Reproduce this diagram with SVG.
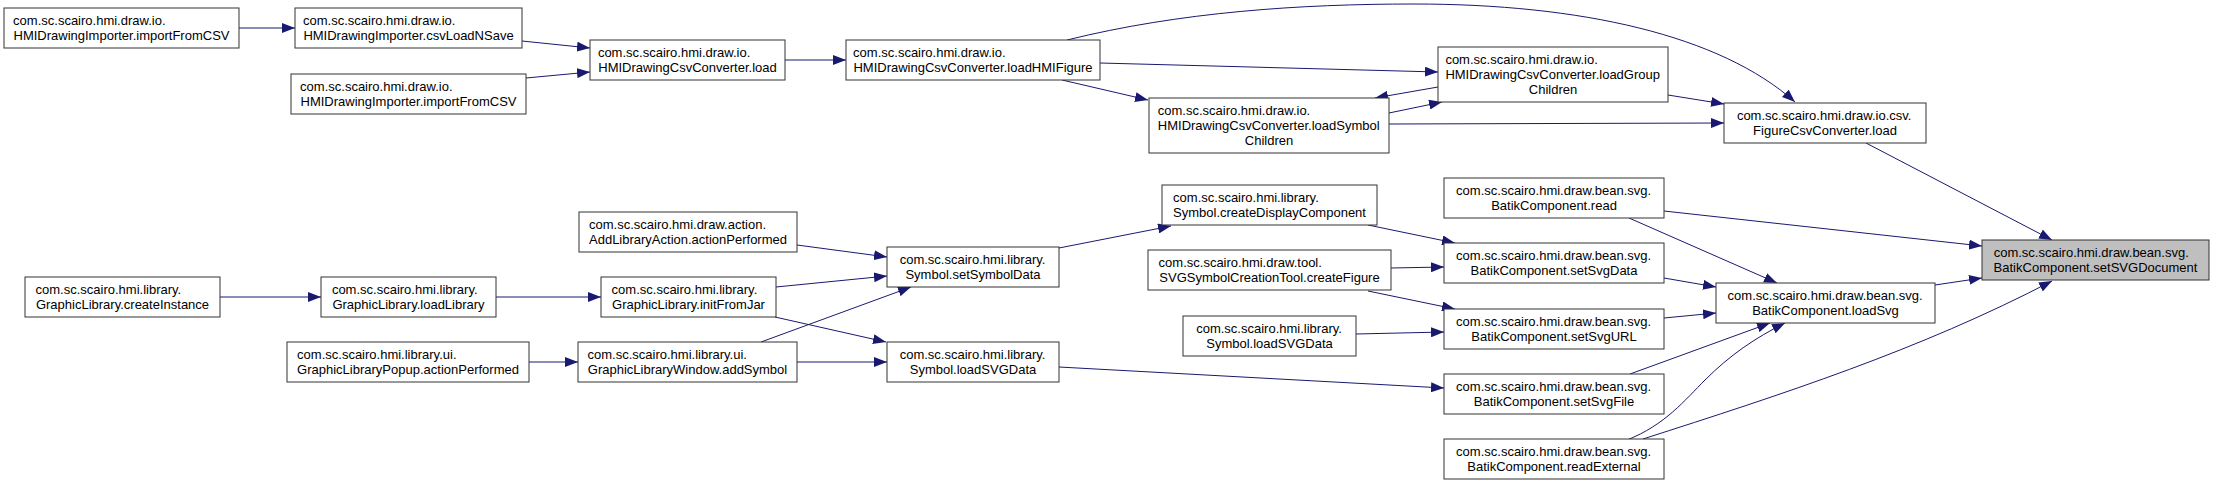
<svg xmlns="http://www.w3.org/2000/svg" width="2215" height="486" viewBox="0 0 2215 486">
<style>
.n rect{fill:#ffffff;stroke:#333333;stroke-width:1}
.n.hl rect{fill:#bfbfbf}
.n text{font-family:"Liberation Sans",Arial,sans-serif;font-size:13px;fill:#000000}
.n text.c{text-anchor:middle}
.e path{stroke:#191970;stroke-width:1;fill:none;marker-end:url(#ah)}
</style>
<defs>
<marker id="ah" markerUnits="userSpaceOnUse" markerWidth="14" markerHeight="10" refX="13" refY="5" orient="auto">
<path d="M0,0 L13,5 L0,10 z" fill="#191970"/>
</marker>
</defs>
<rect width="2215" height="486" fill="#ffffff"/>
<g id="connectors" class="e">
<path d="M239,28 L295,28"/>
<path d="M522,41 L590,48"/>
<path d="M526,78 L590,72"/>
<path d="M785,60 L846,60"/>
<path d="M1067,40 C1180,12 1300,4 1414,4 C1580,4 1720,35 1795,102"/>
<path d="M1100,63 L1438,72"/>
<path d="M1062,80 L1148,100"/>
<path d="M1438,87 L1375,98"/>
<path d="M1389,113 L1442,102"/>
<path d="M1389,124 L1724,123"/>
<path d="M1668,95 L1724,104"/>
<path d="M1866,143 L2052,240"/>
<path d="M1664,211 L1982,246"/>
<path d="M1629,218 L1777,283"/>
<path d="M1664,278 L1716,287"/>
<path d="M1664,318 L1716,313"/>
<path d="M1630,374 L1770,323"/>
<path d="M1627,440 C1665,425 1685,400 1705,380 C1730,355 1755,338 1785,323"/>
<path d="M1643,439 C1780,395 1920,350 2052,281"/>
<path d="M1935,285 L1982,278"/>
<path d="M1059,248 L1171,226"/>
<path d="M1368,225 L1455,243"/>
<path d="M1391,268 L1444,267"/>
<path d="M1368,291 L1455,309"/>
<path d="M1356,334 L1444,332"/>
<path d="M1059,367 L1444,388"/>
<path d="M496,297 L601,297"/>
<path d="M220,297 L321,297"/>
<path d="M529,362 L578,362"/>
<path d="M797,245 L887,257"/>
<path d="M776,287 L887,276"/>
<path d="M761,342 L911,287"/>
<path d="M775,317 L886,342"/>
<path d="M797,362 L887,362"/>
</g>
<g id="n_importFromCSV_1" class="n"><rect x="4" y="8" width="235" height="40"/><text x="13.1" y="25">com.sc.scairo.hmi.draw.io.</text><text class="c" x="121.5" y="40">HMIDrawingImporter.importFromCSV</text></g>
<g id="n_csvLoadNSave" class="n"><rect x="295" y="8" width="227" height="40"/><text x="303" y="25">com.sc.scairo.hmi.draw.io.</text><text class="c" x="408.5" y="40">HMIDrawingImporter.csvLoadNSave</text></g>
<g id="n_importFromCSV_2" class="n"><rect x="291" y="74" width="235" height="40"/><text x="300.1" y="91">com.sc.scairo.hmi.draw.io.</text><text class="c" x="408.5" y="106">HMIDrawingImporter.importFromCSV</text></g>
<g id="n_csvload" class="n"><rect x="590" y="40" width="195" height="40"/><text x="597.9" y="57">com.sc.scairo.hmi.draw.io.</text><text class="c" x="687.5" y="72">HMIDrawingCsvConverter.load</text></g>
<g id="n_loadHMIFigure" class="n"><rect x="846" y="40" width="254" height="40"/><text x="853.1" y="57">com.sc.scairo.hmi.draw.io.</text><text class="c" x="973" y="72">HMIDrawingCsvConverter.loadHMIFigure</text></g>
<g id="n_loadGroupChildren" class="n"><rect x="1438" y="47" width="230" height="55"/><text x="1445.4" y="64">com.sc.scairo.hmi.draw.io.</text><text x="1445.4" y="79">HMIDrawingCsvConverter.loadGroup</text><text class="c" x="1553" y="94">Children</text></g>
<g id="n_loadSymbolChildren" class="n"><rect x="1149" y="98" width="240" height="55"/><text x="1157.8" y="115">com.sc.scairo.hmi.draw.io.</text><text x="1157.8" y="130">HMIDrawingCsvConverter.loadSymbol</text><text class="c" x="1269" y="145">Children</text></g>
<g id="n_figureCsvLoad" class="n"><rect x="1724" y="103" width="202" height="40"/><text x="1736.9" y="120">com.sc.scairo.hmi.draw.io.csv.</text><text class="c" x="1825" y="135">FigureCsvConverter.load</text></g>
<g id="n_setSVGDocument" class="n hl"><rect x="1982" y="240" width="227" height="40"/><text x="1993.7" y="257">com.sc.scairo.hmi.draw.bean.svg.</text><text class="c" x="2095.5" y="272">BatikComponent.setSVGDocument</text></g>
<g id="n_read" class="n"><rect x="1444" y="178" width="220" height="40"/><text x="1456.1" y="195">com.sc.scairo.hmi.draw.bean.svg.</text><text class="c" x="1554" y="210">BatikComponent.read</text></g>
<g id="n_setSvgData" class="n"><rect x="1444" y="243" width="220" height="40"/><text x="1456.1" y="260">com.sc.scairo.hmi.draw.bean.svg.</text><text class="c" x="1554" y="275">BatikComponent.setSvgData</text></g>
<g id="n_setSvgURL" class="n"><rect x="1444" y="309" width="220" height="40"/><text x="1456.1" y="326">com.sc.scairo.hmi.draw.bean.svg.</text><text class="c" x="1554" y="341">BatikComponent.setSvgURL</text></g>
<g id="n_setSvgFile" class="n"><rect x="1444" y="374" width="220" height="40"/><text x="1456.1" y="391">com.sc.scairo.hmi.draw.bean.svg.</text><text class="c" x="1554" y="406">BatikComponent.setSvgFile</text></g>
<g id="n_readExternal" class="n"><rect x="1444" y="439" width="220" height="40"/><text x="1456.1" y="456">com.sc.scairo.hmi.draw.bean.svg.</text><text class="c" x="1554" y="471">BatikComponent.readExternal</text></g>
<g id="n_loadSvg" class="n"><rect x="1716" y="283" width="219" height="40"/><text x="1727.6" y="300">com.sc.scairo.hmi.draw.bean.svg.</text><text class="c" x="1825.5" y="315">BatikComponent.loadSvg</text></g>
<g id="n_createDisplayComponent" class="n"><rect x="1162" y="185" width="215" height="40"/><text x="1173.1" y="202">com.sc.scairo.hmi.library.</text><text class="c" x="1269.5" y="217">Symbol.createDisplayComponent</text></g>
<g id="n_createFigure" class="n"><rect x="1148" y="250" width="243" height="40"/><text x="1158.6" y="267">com.sc.scairo.hmi.draw.tool.</text><text class="c" x="1269.5" y="282">SVGSymbolCreationTool.createFigure</text></g>
<g id="n_loadSVGData_2" class="n"><rect x="1183" y="316" width="173" height="40"/><text x="1196.2" y="333">com.sc.scairo.hmi.library.</text><text class="c" x="1269.5" y="348">Symbol.loadSVGData</text></g>
<g id="n_setSymbolData" class="n"><rect x="887" y="247" width="172" height="40"/><text x="899.7" y="264">com.sc.scairo.hmi.library.</text><text class="c" x="973" y="279">Symbol.setSymbolData</text></g>
<g id="n_loadSVGData_1" class="n"><rect x="887" y="342" width="172" height="40"/><text x="899.7" y="359">com.sc.scairo.hmi.library.</text><text class="c" x="973" y="374">Symbol.loadSVGData</text></g>
<g id="n_addLibraryAction" class="n"><rect x="579" y="212" width="218" height="40"/><text x="589" y="229">com.sc.scairo.hmi.draw.action.</text><text class="c" x="688" y="244">AddLibraryAction.actionPerformed</text></g>
<g id="n_initFromJar" class="n"><rect x="601" y="277" width="175" height="40"/><text x="611.6" y="294">com.sc.scairo.hmi.library.</text><text class="c" x="688.5" y="309">GraphicLibrary.initFromJar</text></g>
<g id="n_addSymbol" class="n"><rect x="578" y="342" width="219" height="40"/><text x="587.5" y="359">com.sc.scairo.hmi.library.ui.</text><text class="c" x="687.5" y="374">GraphicLibraryWindow.addSymbol</text></g>
<g id="n_createInstance" class="n"><rect x="25" y="277" width="195" height="40"/><text x="35.5" y="294">com.sc.scairo.hmi.library.</text><text class="c" x="122.5" y="309">GraphicLibrary.createInstance</text></g>
<g id="n_loadLibrary" class="n"><rect x="321" y="277" width="175" height="40"/><text x="331.9" y="294">com.sc.scairo.hmi.library.</text><text class="c" x="408.5" y="309">GraphicLibrary.loadLibrary</text></g>
<g id="n_popup" class="n"><rect x="287" y="342" width="242" height="40"/><text x="297.1" y="359">com.sc.scairo.hmi.library.ui.</text><text class="c" x="408" y="374">GraphicLibraryPopup.actionPerformed</text></g>
</svg>
